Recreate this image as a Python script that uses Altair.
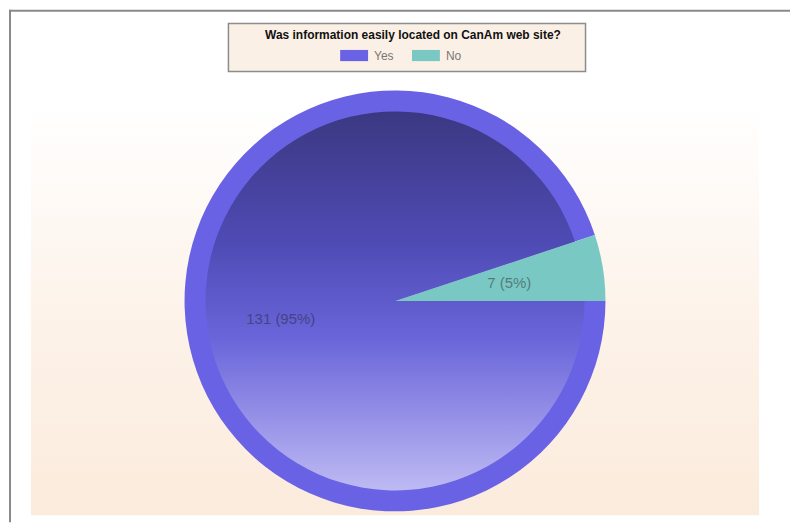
import math
import altair as alt
import pandas as pd

# ---- data ----
categories = ["Yes", "No"]
counts = [131, 7]
percents = [95, 5]
label_texts = ["131 (95%)", "7 (5%)"]
slice_colors = ["#6A62E4", "#7AC8C4"]
question = "Was information easily located on CanAm web site?"

total = sum(counts)
df = pd.DataFrame({
    "cat": categories,
    "value": counts,
    "pct": percents,
    "label": label_texts,
    "order": list(range(len(categories))),
})

W, H = 783, 514
CX, CY = 387, 292
R_OUT, R_IN = 211, 190
FONT = "Liberation Sans"

theta_scale = alt.Scale(domain=[0, total], range=[math.pi / 2, math.pi / 2 + 2 * math.pi])

base = (
    alt.Chart(df)
    .transform_window(cum="sum(value)", sort=[alt.SortField("order", order="ascending")])
    .transform_calculate(start="datum.cum - datum.value", mid="datum.cum - datum.value / 2")
)

one = alt.Chart(pd.DataFrame({"q": [question]}))

# frame lines (top and left)
top_line = one.mark_rule(color="#8A8A8A", strokeWidth=2).encode(
    x=alt.value(0), x2=alt.value(W), y=alt.value(1)
)
left_line = one.mark_rule(color="#8A8A8A", strokeWidth=2).encode(
    x=alt.value(1), y=alt.value(0), y2=alt.value(H)
)

bg_gradient = alt.LinearGradient(
    gradient="linear", x1=0, x2=0, y1=0, y2=1,
    stops=[
        alt.GradientStop(color="#FFFFFF", offset=0),
        alt.GradientStop(color="#FDF3EA", offset=0.5),
        alt.GradientStop(color="#FBEBDC", offset=1),
    ],
)
background = one.mark_rect(fill=bg_gradient).encode(
    x=alt.value(22), x2=alt.value(752), y=alt.value(97), y2=alt.value(507)
)

rim = base.mark_arc(outerRadius=R_OUT).encode(
    theta=alt.Theta("start:Q", scale=theta_scale),
    theta2="cum:Q",
    x=alt.value(CX),
    y=alt.value(CY),
    color=alt.Color(
        "cat:N",
        scale=alt.Scale(domain=categories, range=slice_colors),
        legend=alt.Legend(
            orient="none",
            legendX=332,
            legendY=32,
            direction="horizontal",
            title=None,
            symbolType="M-1,-0.4H1V0.4H-1Z",
            symbolSize=784,
            symbolStrokeWidth=0,
            labelFont=FONT,
            labelFontSize=12,
            labelColor="#777777",
            labelOffset=6,
            columnPadding=18,
            padding=0,
        ),
    ),
)

inner_gradient = alt.LinearGradient(
    gradient="linear", x1=0, x2=0, y1=0, y2=1,
    stops=[
        alt.GradientStop(color="#3B3882", offset=0),
        alt.GradientStop(color="#4F4BB5", offset=0.35),
        alt.GradientStop(color="#6A65DA", offset=0.6),
        alt.GradientStop(color="#BEBAF3", offset=1),
    ],
)
inner = base.transform_filter("datum.cat == 'Yes'").mark_arc(
    outerRadius=R_IN, fill=inner_gradient
).encode(
    theta=alt.Theta("start:Q", scale=theta_scale),
    theta2="cum:Q",
    x=alt.value(CX),
    y=alt.value(CY),
)

labels = base.mark_text(
    font=FONT, fontSize=15, fill="#222222", opacity=0.45, radius=116
).encode(
    theta=alt.Theta("mid:Q", scale=theta_scale),
    text="label:N",
    x=alt.value(CX),
    y=alt.value(CY),
)

legend_box = one.mark_rect(fill="#FBF0E5", stroke="#8C8C8C", strokeWidth=1.5).encode(
    x=alt.value(220), x2=alt.value(578), y=alt.value(14), y2=alt.value(62)
)
legend_title = one.mark_text(
    font=FONT, fontSize=12, fontWeight="bold", color="#111111", align="center", baseline="middle"
).encode(x=alt.value(405), y=alt.value(25), text="q:N")

chart = alt.layer(
    background, top_line, left_line, rim, inner, labels, legend_box, legend_title
).properties(width=W, height=H, padding=0, background="#FFFFFF").configure_view(stroke=None)

chart.save("out.html", embed_options={"renderer": "svg", "actions": False})
